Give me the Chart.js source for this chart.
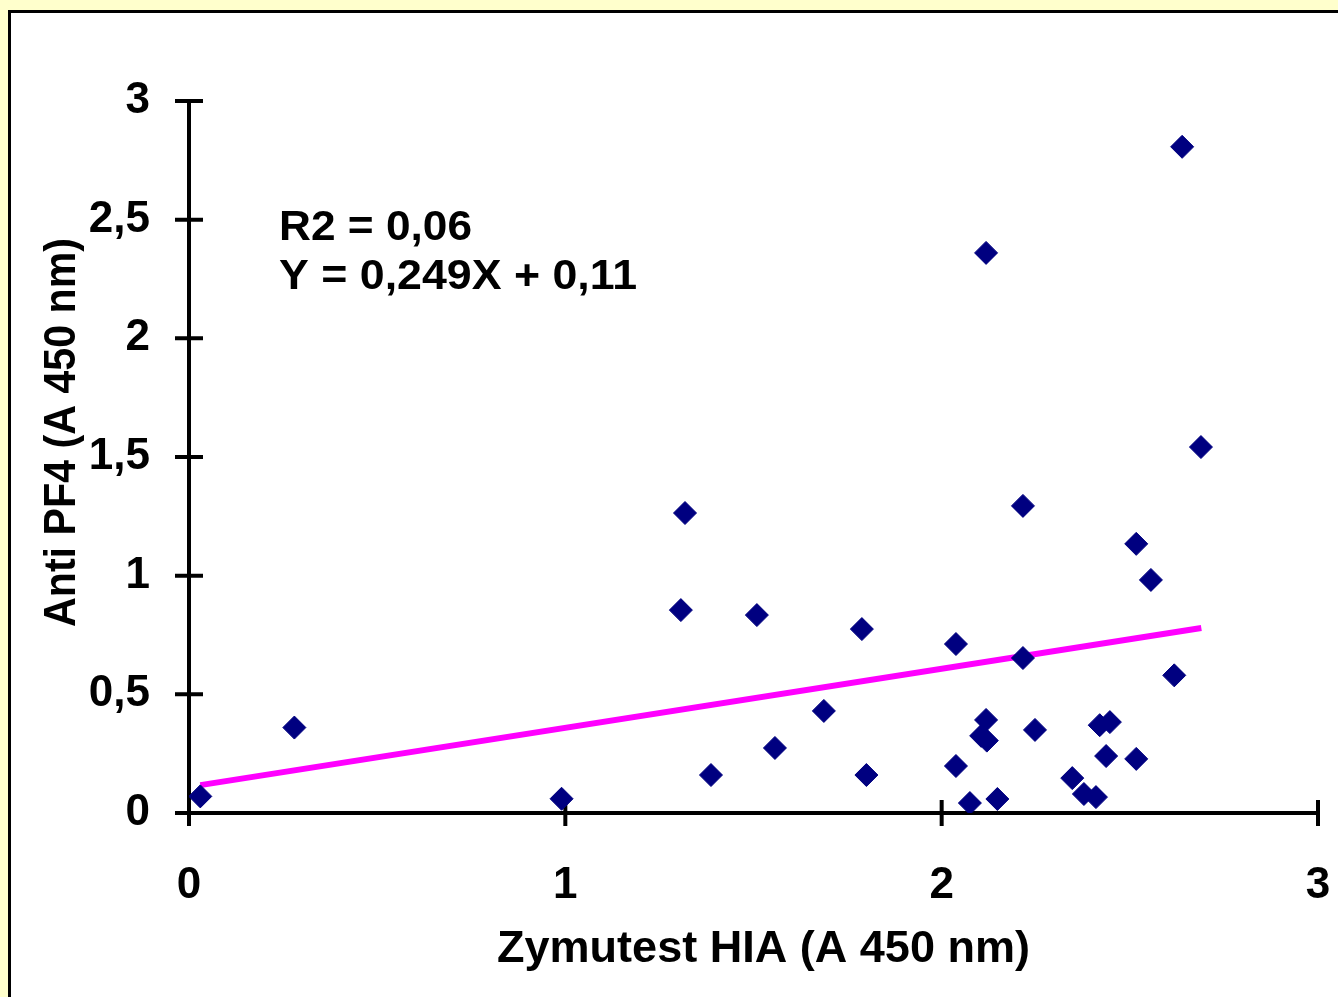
<!DOCTYPE html>
<html>
<head>
<meta charset="utf-8">
<script src="https://cdn.jsdelivr.net/npm/chart.js@4.4.1/dist/chart.umd.min.js"></script>
<style>
    html, body { margin: 0; padding: 0; background: #ffffcc; overflow: hidden; }
    #wrap { width: 1338px; height: 997px; }
</style>
</head>
<body>
<div id="wrap"><canvas id="scatter"></canvas></div>
<script>
// Zymutest HIA (x) vs Anti PF4 (y)
const hiaValues = [0.03, 0.28, 0.99, 1.318, 1.307, 1.387, 1.509, 1.557, 1.687, 1.788, 1.80,
    2.038, 2.038, 2.075, 2.118, 2.118, 2.105, 2.12, 2.148, 2.216, 2.216, 2.248,
    2.347, 2.378, 2.41, 2.42, 2.447, 2.437, 2.517, 2.517, 2.556, 2.618, 2.639, 2.689];
const pf4Values = [0.07, 0.36, 0.06, 1.264, 0.855, 0.16, 0.834, 0.274, 0.43, 0.775, 0.16,
    0.712, 0.198, 0.042, 2.36, 0.392, 0.325, 0.305, 0.059, 1.294, 0.653, 0.35,
    0.147, 0.08, 0.067, 0.37, 0.383, 0.24, 0.228, 1.134, 0.982, 0.58, 2.807, 1.542];

// trend line from the equation printed on the chart
const slope = 0.249;
const intercept = 0.11;
const fitX = [0.03, 2.69];

const xTicks = [0, 1, 2, 3];
const yTicks = [0, 0.5, 1, 1.5, 2, 2.5, 3];

const annotationLines = ['R2 = 0,06', 'Y = 0,249X + 0,11'];
const xTitle = 'Zymutest HIA (A 450 nm)';
const yTitle = 'Anti PF4 (A 450 nm)';

const fontFamily = '"Liberation Sans", Arial, sans-serif';
const commaFormat = v => String(v).replace('.', ',');

const points = hiaValues.map((x, i) => ({ x: x, y: pf4Values[i] }));
const fitPoints = fitX.map(x => ({ x: x, y: slope * x + intercept }));

// text squeezed/stretched to the width it has in the picture
function fitText(c, text, x, y, width) {
    const w = c.measureText(text).width;
    c.save();
    c.translate(x, y);
    c.scale(width / w, 1);
    c.fillText(text, 0, 0);
    c.restore();
}

// yellow frame, black border, white inside
const framePlugin = {
    id: 'frame',
    beforeDraw(chart) {
        const c = chart.ctx;
        c.save();
        c.fillStyle = '#ffffcc';
        c.fillRect(0, 0, chart.width, chart.height);
        c.fillStyle = '#ffffff';
        c.fillRect(9, 11, chart.width, chart.height);
        c.strokeStyle = '#000000';
        c.lineWidth = 3;
        c.strokeRect(9.5, 11.5, chart.width + 10, chart.height + 10);
        c.restore();
    }
};

// cross-shaped tick marks, texts and axis titles
const decorPlugin = {
    id: 'decor',
    beforeDatasetsDraw(chart) {
        const c = chart.ctx;
        const xs = chart.scales.x;
        const ys = chart.scales.y;
        c.save();
        c.strokeStyle = '#000';
        c.lineWidth = 4;
        c.beginPath();
        xTicks.forEach(v => {
            const px = xs.getPixelForValue(v);
            c.moveTo(px, ys.bottom - 13);
            c.lineTo(px, ys.bottom + 13);
        });
        yTicks.forEach(v => {
            const py = ys.getPixelForValue(v);
            c.moveTo(xs.left - 14, py);
            c.lineTo(xs.left + 14, py);
        });
        c.stroke();
        c.restore();
    },
    afterDraw(chart) {
        const c = chart.ctx;
        c.save();
        c.fillStyle = '#000';
        c.textBaseline = 'alphabetic';
        c.textAlign = 'left';
        c.font = 'bold 42px ' + fontFamily;
        fitText(c, annotationLines[0], 279, 240, 193);
        fitText(c, annotationLines[1], 279, 289, 358);

        c.font = 'bold 44px ' + fontFamily;
        fitText(c, xTitle, 497, 962, 533);

        c.save();
        c.translate(75, 627);
        c.rotate(-Math.PI / 2);
        fitText(c, yTitle, 0, 0, 389);
        c.restore();
        c.restore();
    }
};

const ctx = document.getElementById('scatter').getContext('2d');
const scatterChart = new Chart(ctx, {
    type: 'scatter',
    data: {
        datasets: [{
            label: 'data',
            data: points,
            pointStyle: 'rectRot',
            pointRadius: 11.5,
            pointHoverRadius: 11.5,
            backgroundColor: '#000080',
            borderColor: '#000080',
            borderWidth: 1,
            order: 1
        }, {
            label: 'fit',
            type: 'line',
            data: fitPoints,
            borderColor: '#ff00ff',
            borderWidth: 6,
            pointRadius: 0,
            fill: false,
            order: 2
        }]
    },
    options: {
        responsive: true,
        maintainAspectRatio: false,
        animation: false,
        events: [],
        layout: {
            padding: { top: 101, right: 20, bottom: 0, left: 0 }
        },
        plugins: {
            legend: { display: false },
            tooltip: { enabled: false }
        },
        scales: {
            x: {
                type: 'linear',
                min: 0,
                max: 3,
                afterFit: s => {
                    s.height = 184;
                    // label padding would otherwise shrink the plot on the right
                    s.paddingLeft = 0;
                    s.paddingRight = 0;
                },
                afterBuildTicks: s => { s.ticks = xTicks.map(v => ({ value: v })); },
                grid: { display: false, drawTicks: false },
                border: { display: true, color: '#000', width: 4 },
                ticks: {
                    color: '#000',
                    padding: 46,
                    font: { family: fontFamily, size: 44, weight: 'bold' },
                    callback: commaFormat
                }
            },
            y: {
                type: 'linear',
                min: 0,
                max: 3,
                afterFit: s => { s.width = 189; },
                afterBuildTicks: s => { s.ticks = yTicks.map(v => ({ value: v })); },
                grid: { display: false, drawTicks: false },
                border: { display: true, color: '#000', width: 4 },
                ticks: {
                    color: '#000',
                    padding: 39,
                    font: { family: fontFamily, size: 44, weight: 'bold' },
                    callback: commaFormat
                }
            }
        }
    },
    plugins: [framePlugin, decorPlugin]
});
</script>
</body>
</html>
